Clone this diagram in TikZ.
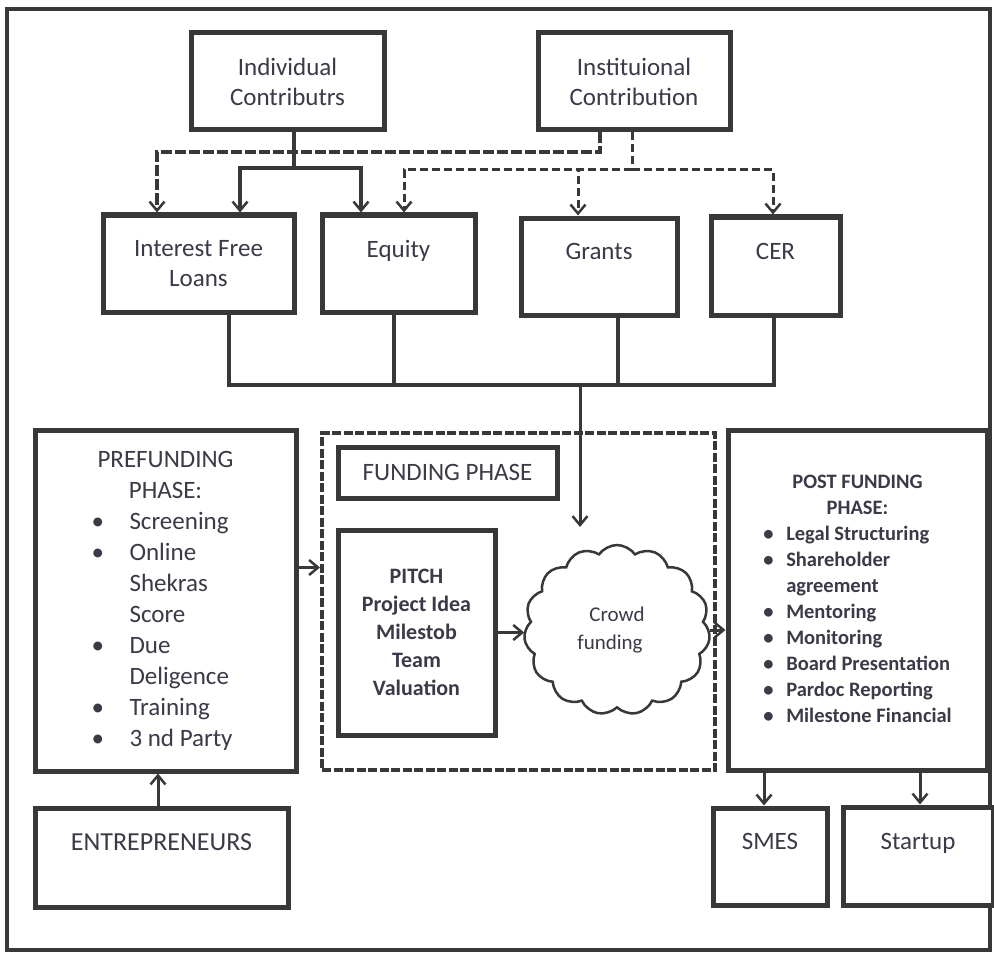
\documentclass[tikz,border=0pt]{standalone}
\usepackage{fontspec}
\setmainfont{Carlito}
\usetikzlibrary{arrows.meta,shapes.symbols,calc}
\definecolor{ln}{HTML}{383838}
\definecolor{tx}{HTML}{3A3A48}
\begin{document}
\begin{tikzpicture}[x=1pt,y=-1pt,
  box/.style={draw=ln,line width=5pt,fill=white,text=tx,align=center,inner sep=0pt},
  conn/.style={draw=ln,line width=4pt},
  thickdash/.style={draw=ln,line width=4.5pt,dash pattern=on 11pt off 3pt},
  thindash/.style={draw=ln,line width=3pt,dash pattern=on 8pt off 4pt},
  tip/.style={-{Straight Barb[length=9pt,width=15pt,line width=2.5pt]}},
  fsbig/.style={font=\fontsize{25}{30}\selectfont},
]
\useasboundingbox (0,0) rectangle (994,955);
% outer frame
\draw[ln,line width=4pt] (7,9) rectangle (990,950);

% top sources
\node[box,fsbig,minimum width=193,minimum height=97] (ind) at (287.5,81.5) {Individual\\Contributrs};
\node[box,fsbig,minimum width=192,minimum height=97] (inst) at (634,81.5) {Instituional\\Contribution};

% instruments
\node[box,fsbig,minimum width=191,minimum height=97] (ifl) at (198.5,263.5) {Interest Free\\Loans};
\node[box,fsbig,minimum width=153,minimum height=97] (eq) at (398.5,263.5) {Equity\\\mbox{}};
\node[box,fsbig,minimum width=156,minimum height=97] (gr) at (599,266.5) {Grants\\\mbox{}};
\node[box,fsbig,minimum width=129,minimum height=98] (cer) at (775.5,266) {CER\\\mbox{}};

% connectors from individual
\coordinate (j1) at (294,168);
\draw[conn] ([xshift=6.5]ind.south) -- (j1);
\draw[conn,tip] (j1) -| ([xshift=41.5]ifl.north);
\draw[conn,tip] (j1) -| ([xshift=-37.5]eq.north);

% thick dashed from institutional to loans
\coordinate (k1) at (157,152);
\draw[thickdash,tip] ([xshift=-34]inst.south) |- (k1) -- ([xshift=-41.5]ifl.north);

% thin dashed from institutional
\coordinate (k2) at (632,170);
\draw[thindash] ([xshift=-2]inst.south) -- (k2);
\draw[thindash,tip] (k2) -| ([xshift=5.5]eq.north);
\draw[thindash,tip] (k2) -| ([xshift=-21]gr.north);
\draw[thindash,tip] (k2) -| ([xshift=-2.5]cer.north);

% bus
\coordinate (bus) at (580,385);
\draw[conn] ([xshift=30.5]ifl.south) |- (bus);
\draw[conn] ([xshift=-4.5]eq.south) |- (bus);
\draw[conn] ([xshift=19]gr.south) |- (bus);
\draw[conn] ([xshift=-1.5]cer.south) |- (bus);
\coordinate (ctip) at (580,527);
\draw[conn,line width=3pt,tip] (bus) -- (ctip);

% prefunding
\node[box,minimum width=261,minimum height=341,font=\fontsize{25}{31}\selectfont] (pre) at (165.5,600.5) {%
\begin{tabular}{@{}p{38pt}@{}l@{}}
\multicolumn{2}{c}{PREFUNDING}\\
\multicolumn{2}{c}{PHASE:}\\
\textbullet&Screening\\
\textbullet&Online\\
&Shekras\\
&Score\\
\textbullet&Due\\
&Deligence\\
\textbullet&Training\\
\textbullet&3 nd Party
\end{tabular}};

% funding phase dashed box
\node[draw=ln,line width=4pt,dash pattern=on 9pt off 2.5pt,minimum width=393,minimum height=337,inner sep=0pt] (fund) at (518.5,601.5) {};
\node[box,font=\fontsize{25}{30}\selectfont,minimum width=219,minimum height=51] (fph) at (447.5,472.5) {FUNDING PHASE};
\node[box,font=\fontsize{22}{28}\selectfont\bfseries,minimum width=157,minimum height=205] (pitch) at (416.5,632.5) {PITCH\\Project Idea\\Milestob\\Team\\Valuation};
\node[cloud,draw=ln,line width=2.5pt,fill=white,text=tx,cloud puffs=15,cloud puff arc=110,aspect=1.1,minimum width=186,minimum height=170,inner sep=0pt,align=center,font=\fontsize{21}{28}\selectfont] (cloud) at (617,630) {Crowd\\funding\hspace*{14pt}};

% post funding
\node[box,minimum width=259,minimum height=340,font=\fontsize{20.5}{26}\selectfont\bfseries] (post) at (857.5,600) {%
\begin{tabular}{@{}p{23pt}@{}l@{}}
\multicolumn{2}{c}{POST FUNDING}\\
\multicolumn{2}{c}{PHASE:}\\
\textbullet&Legal Structuring\\
\textbullet&Shareholder\\
&agreement\\
\textbullet&Mentoring\\
\textbullet&Monitoring\\
\textbullet&Board Presentation\\
\textbullet&Pardoc Reporting\\
\textbullet&Milestone Financial
\end{tabular}};

% bottom boxes
\node[box,font=\fontsize{26}{30}\selectfont,minimum width=253,minimum height=99] (ent) at (161.5,857.5) {ENTREPRENEURS\\\mbox{}};
\node[box,fsbig,minimum width=114,minimum height=97] (smes) at (770,856.5) {SMES\\\mbox{}};
\node[box,fsbig,minimum width=150,minimum height=98] (start) at (918,856) {Startup\\\mbox{}};

% phase connectors
\path ([yshift=33]pre.east) coordinate (pa);
\draw[conn,line width=3pt,tip] (pa) -- (pa -| fund.west);
\draw[conn,line width=3pt,tip] (pitch.east) -- (pitch.east -| cloud.west);
\draw[conn,line width=3pt,tip] (cloud.east) -- (cloud.east -| post.west);
\draw[conn,line width=3pt,tip] ([xshift=-3.5]ent.north) -- ([xshift=-3.5]ent.north |- pre.south);
\draw[conn,line width=3pt,tip] ([xshift=-6]smes.north |- post.south) -- ([xshift=-6]smes.north);
\draw[conn,line width=3pt,tip] ([xshift=2]start.north |- post.south) -- ([xshift=2]start.north);
\end{tikzpicture}
\end{document}
